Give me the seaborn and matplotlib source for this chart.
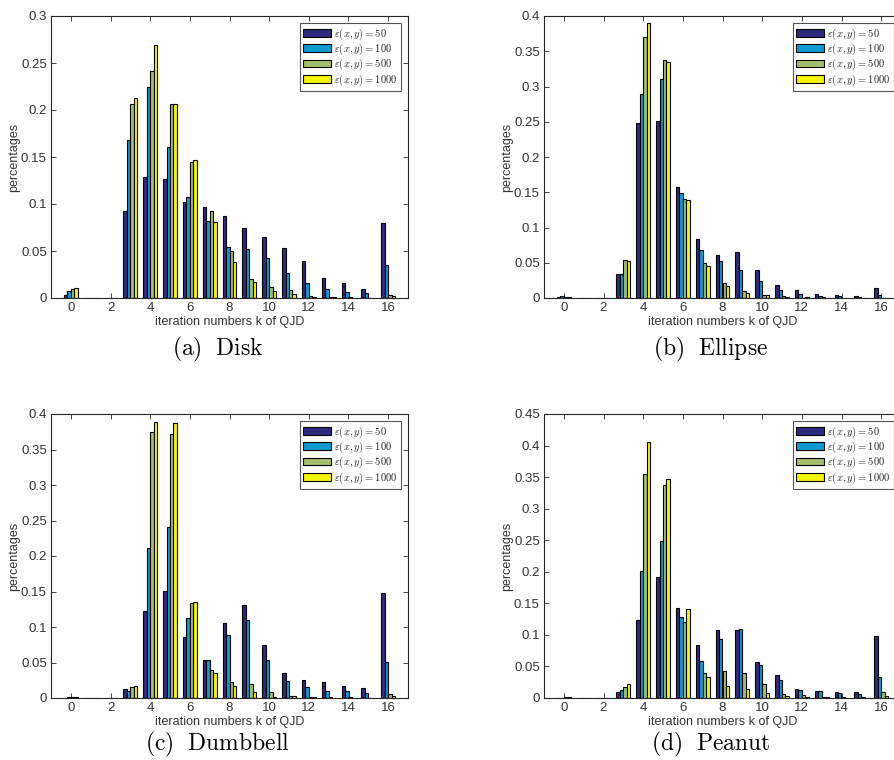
import numpy as np
import pandas as pd
import matplotlib
matplotlib.use("Agg")
import matplotlib.pyplot as plt
import seaborn as sns

# ---------------- data ----------------
iterations = list(range(17))
eps_labels = [r"$\varepsilon(x,y) = 50$", r"$\varepsilon(x,y) = 100$",
              r"$\varepsilon(x,y) = 500$", r"$\varepsilon(x,y) = 1000$"]
colors = ["#2e2b82", "#0b9ad2", "#a3bf6a", "#f5f500"]

disk_50   = [0.0035, 0.0004, 0.0004, 0.093, 0.1284, 0.1263, 0.1022, 0.0969, 0.0874, 0.075, 0.0647, 0.0531, 0.0389, 0.0209, 0.0156, 0.0099, 0.080]
disk_100  = [0.007, 0.0004, 0.0004, 0.1677, 0.225, 0.1606, 0.1075, 0.0821, 0.0541, 0.052, 0.0421, 0.0262, 0.0159, 0.0099, 0.0067, 0.0057, 0.0347]
disk_500  = [0.0095, 0.0004, 0.0004, 0.206, 0.2413, 0.2063, 0.1443, 0.0927, 0.0495, 0.0202, 0.0113, 0.0085, 0.0025, 0.001, 0.0007, 0.0003, 0.003]
disk_1000 = [0.0106, 0.0004, 0.0004, 0.213, 0.2696, 0.2063, 0.1465, 0.0807, 0.0379, 0.0166, 0.0078, 0.0039, 0.001, 0.001, 0.0003, 0.0002, 0.002]

ellipse_50   = [0.001, 0.0005, 0.0005, 0.034, 0.248, 0.251, 0.1575, 0.0835, 0.0604, 0.0646, 0.0396, 0.0184, 0.0113, 0.0052, 0.0047, 0.0024, 0.0146]
ellipse_100  = [0.0033, 0.0005, 0.0005, 0.034, 0.2887, 0.3113, 0.1495, 0.0684, 0.0519, 0.0401, 0.024, 0.0108, 0.0057, 0.0024, 0.0024, 0.0009, 0.0047]
ellipse_500  = [0.002, 0.0005, 0.0005, 0.0538, 0.3708, 0.3382, 0.141, 0.0495, 0.0208, 0.0094, 0.0042, 0.0024, 0.0005, 0.0009, 0.0005, 0.0005, 0.0005]
ellipse_1000 = [0.001, 0.0005, 0.0005, 0.0524, 0.3906, 0.3349, 0.1387, 0.0453, 0.017, 0.0066, 0.0042, 0.0019, 0.0014, 0.0005, 0.0005, 0.0005, 0.0005]

dumbbell_50   = [0.0005, 0.0003, 0.0003, 0.0122, 0.1224, 0.151, 0.0866, 0.0541, 0.1054, 0.1304, 0.0753, 0.0358, 0.0259, 0.0231, 0.0165, 0.0136, 0.1482]
dumbbell_100  = [0.001, 0.0003, 0.0003, 0.0104, 0.2108, 0.241, 0.112, 0.0541, 0.0894, 0.1096, 0.0536, 0.0245, 0.016, 0.0099, 0.0099, 0.0066, 0.0513]
dumbbell_500  = [0.0014, 0.0003, 0.0003, 0.016, 0.3746, 0.3718, 0.1332, 0.0395, 0.0231, 0.0198, 0.0085, 0.0033, 0.0019, 0.0019, 0.0019, 0.0005, 0.0052]
dumbbell_1000 = [0.0019, 0.0003, 0.0003, 0.0174, 0.3892, 0.3873, 0.1346, 0.0348, 0.0169, 0.0089, 0.0019, 0.0033, 0.001, 0.0005, 0.0005, 0.0003, 0.0033]

peanut_50   = [0.0005, 0.0003, 0.0003, 0.009, 0.1242, 0.1921, 0.1422, 0.0844, 0.1072, 0.1077, 0.0578, 0.0371, 0.0149, 0.0106, 0.009, 0.0095, 0.0982]
peanut_100  = [0.0005, 0.0003, 0.0003, 0.0133, 0.2017, 0.2483, 0.1279, 0.0584, 0.0934, 0.1093, 0.0515, 0.0281, 0.0133, 0.0117, 0.0074, 0.0058, 0.034]
peanut_500  = [0.001, 0.0003, 0.0003, 0.0175, 0.3545, 0.338, 0.1199, 0.0393, 0.043, 0.0403, 0.0228, 0.0069, 0.0053, 0.0016, 0.0016, 0.0011, 0.0101]
peanut_1000 = [0.001, 0.0003, 0.0003, 0.0223, 0.4049, 0.3476, 0.1406, 0.0334, 0.0196, 0.0149, 0.008, 0.0032, 0.0021, 0.0011, 0.0005, 0.0005, 0.0032]

panels = [
    ("(a)  Disk", [disk_50, disk_100, disk_500, disk_1000], 0.30),
    ("(b)  Ellipse", [ellipse_50, ellipse_100, ellipse_500, ellipse_1000], 0.40),
    ("(c)  Dumbbell", [dumbbell_50, dumbbell_100, dumbbell_500, dumbbell_1000], 0.40),
    ("(d)  Peanut", [peanut_50, peanut_100, peanut_500, peanut_1000], 0.45),
]
x_ticks = [0, 2, 4, 6, 8, 10, 12, 14, 16]

# ---------------- style ----------------
sns.set_theme(style="ticks")
TXT = "#333333"
plt.rcParams.update({
    "font.family": ["Liberation Sans", "DejaVu Sans"],
    "mathtext.fontset": "cm",
    "xtick.direction": "in", "ytick.direction": "in",
    "xtick.top": True, "ytick.right": True,
    "xtick.major.size": 3.5, "ytick.major.size": 3.5,
    "xtick.major.width": 0.6, "ytick.major.width": 0.6,
    "axes.edgecolor": "#262626", "axes.linewidth": 0.8,
    "xtick.color": "#262626", "ytick.color": "#262626",
    "xtick.labelcolor": TXT, "ytick.labelcolor": TXT,
    "axes.labelcolor": TXT,
})

W, H = 894, 760
fig = plt.figure(figsize=(W / 100, H / 100), dpi=100)

# axes boxes in pixels: (left, top, width, height)
boxes = [(51, 16, 357, 282), (544, 16, 357, 282),
         (51, 414, 357, 284), (544, 414, 357, 284)]
caption_y = [349, 349, 744, 744]

for (caption, series, ymax), (l, t, w, h), cyp in zip(panels, boxes, caption_y):
    ax = fig.add_axes([l / W, 1 - (t + h) / H, w / W, h / H])
    df = pd.DataFrame({
        "k": np.tile(iterations, 4),
        "eps": np.repeat(eps_labels, len(iterations)),
        "val": np.concatenate(series),
    })
    sns.barplot(data=df, x="k", y="val", hue="eps", hue_order=eps_labels,
                palette=colors, native_scale=True, width=0.7, errorbar=None,
                edgecolor="black", linewidth=0.8, saturation=1, ax=ax)
    ax.set_xlim(-1, 17)
    ax.set_ylim(0, ymax)
    ax.set_xticks(x_ticks)
    ax.set_xticklabels([str(v) for v in x_ticks])
    yt = np.round(np.arange(0, ymax + 1e-9, 0.05), 2)
    ax.set_yticks(yt)
    ax.set_yticklabels([f"{v:g}" for v in yt])
    ax.tick_params(labelsize=9.5, pad=3)
    ax.set_xlabel("iteration numbers k of QJD", fontsize=9, labelpad=1)
    ax.set_ylabel("percentages", fontsize=9)
    ax.yaxis.set_label_coords(-0.085, 0.5)
    for s in ax.spines.values():
        s.set_visible(True)
    sns.move_legend(ax, "upper right", title=None, fontsize=7.6,
                    frameon=True, fancybox=False, framealpha=1,
                    edgecolor="#555555", handlelength=2.7, handleheight=0.75,
                    handletextpad=0.25, labelspacing=0.0, borderpad=0.3,
                    borderaxespad=0.7)
    leg = ax.get_legend()
    leg.get_frame().set_linewidth(0.8)
    for hdl in leg.legend_handles:
        hdl.set_edgecolor("black")
        hdl.set_linewidth(0.8)
    # caption in Computer Modern style
    cx = (l + w / 2 - 12) / W
    cy = 1 - cyp / H
    fig.text(cx, cy, r"$\mathrm{" + caption.replace(" ", r"\ ") + "}$",
             ha="center", va="center", fontsize=17, color="black")

fig.savefig("out.png", dpi=100)
